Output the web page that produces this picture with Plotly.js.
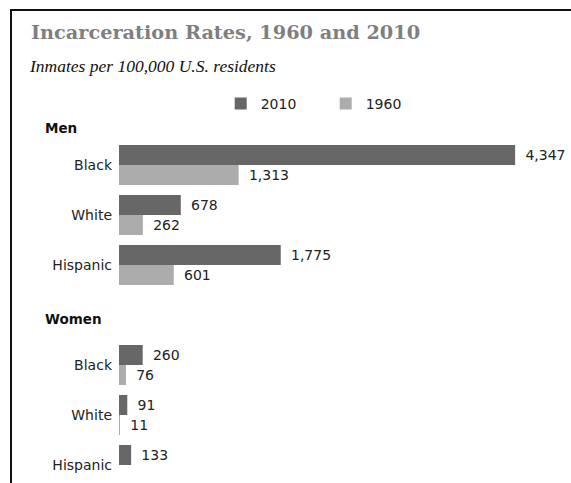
<!DOCTYPE html>
<html><head><meta charset="utf-8">
<script src="https://cdn.plot.ly/plotly-3.0.1.min.js"></script>
<style>
html,body{margin:0;padding:0;background:#fff;}
#wrap{position:relative;width:571px;height:483px;overflow:hidden;}
#chart{position:absolute;left:0;top:0;width:571px;height:483px;}
#frame{position:absolute;left:10px;top:9px;width:700px;height:700px;border-left:2px solid #111;border-top:2px solid #111;pointer-events:none;}
</style></head><body>
<div id="wrap"><div id="chart"></div><div id="frame"></div></div>
<script>
// ---- data ----
const groups = ["Men", "Women"];
const races = ["Black", "White", "Hispanic"];
const men2010 = [4347, 678, 1775];
const men1960 = [1313, 262, 601];
const women2010 = [260, 91, 133];
const women1960 = [76, 11, null];
const seriesNames = ["2010", "1960"];

// ---- build rows (men rows, one blank row, women rows) ----
const menPos = races.map((r, i) => i);
const womenPos = races.map((r, i) => i + races.length + 1);
const yPos = menPos.concat(womenPos);
const tickText = races.concat(races);

const dark = "#676767", light = "#acacac";
const labelFont = {family: "DejaVu Sans, Verdana, sans-serif", size: 14, color: "#222"};

function barTrace(name, vals, color) {
  return {
    type: "bar", orientation: "h", name: name,
    x: vals, y: yPos,
    marker: {color: color, line: {width: 0}},
    text: vals.map(v => v == null ? "" : "\u00a0\u2009" + v.toLocaleString("en-US")),
    textposition: "outside", textfont: labelFont, outsidetextfont: labelFont,
    constraintext: "none", cliponaxis: false, hoverinfo: "skip"
  };
}

const data = [
  barTrace(seriesNames[0], men2010.concat(women2010), dark),
  barTrace(seriesNames[1], men1960.concat(women1960), light)
];

const layout = {
  width: 571, height: 483,
  margin: {l: 119, r: 0, t: 140, b: 0, pad: 0},
  paper_bgcolor: "#fff", plot_bgcolor: "#fff",
  barmode: "group", bargap: 0.2, bargroupgap: 0,
  showlegend: true,
  legend: {orientation: "h", x: 0.225, xanchor: "left", y: 1.105, yanchor: "middle",
           font: {family: "DejaVu Sans, Verdana, sans-serif", size: 14, color: "#222"},
           traceorder: "normal", entrywidth: 60, entrywidthmode: "pixels"},
  xaxis: {range: [0, 4960], showticklabels: false, showgrid: false, zeroline: false, showline: false, fixedrange: true},
  yaxis: {range: [6.36, -0.5], tickvals: yPos, ticktext: tickText, showgrid: false, zeroline: false,
          showline: false, ticks: "", ticklabelstandoff: 6, tickfont: labelFont, fixedrange: true},
  annotations: [
    {xref: "paper", yref: "paper", x: -0.168, y: (483 - 128) / 343, xanchor: "left", yanchor: "middle",
     text: "<b>" + groups[0] + "</b>", showarrow: false, font: {family: "DejaVu Sans, Verdana, sans-serif", size: 13.5, color: "#111"}},
    {xref: "paper", yref: "paper", x: -0.168, y: (483 - 319) / 343, xanchor: "left", yanchor: "middle",
     text: "<b>" + groups[1] + "</b>", showarrow: false, font: {family: "DejaVu Sans, Verdana, sans-serif", size: 13.5, color: "#111"}},
    {xref: "paper", yref: "paper", x: (29 - 119) / 452, y: (483 - 33) / 343, xanchor: "left", yanchor: "middle",
     text: "<b>Incarceration Rates, 1960 and 2010</b>", showarrow: false,
     font: {family: "DejaVu Serif, serif", size: 19.3, color: "#7f7f7f"}},
    {xref: "paper", yref: "paper", x: (27 - 119) / 452, y: (483 - 66) / 343, xanchor: "left", yanchor: "middle",
     text: "<i>Inmates per 100,000 U.S. residents</i>", showarrow: false,
     font: {family: "Liberation Serif, serif", size: 17.5, color: "#111"}}
  ]
};

Plotly.newPlot("chart", data, layout, {displayModeBar: false, staticPlot: true});
</script>
</body></html>
